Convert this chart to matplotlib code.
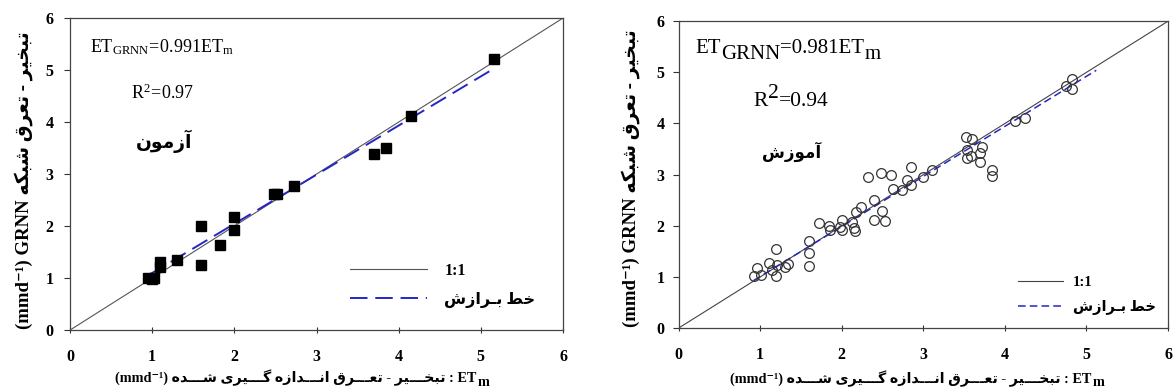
import matplotlib
matplotlib.use("Agg")
import matplotlib.pyplot as plt

# ---------------- data ----------------
test_x = [0.95, 1.0, 1.02, 1.1, 1.1, 1.3, 1.59, 1.59, 1.82, 1.99, 1.99, 2.48, 2.52, 2.73, 3.70, 3.84, 4.15, 5.16]
test_y = [1.0, 0.98, 1.0, 1.3, 1.22, 1.35, 2.0, 1.25, 1.64, 2.17, 1.93, 2.61, 2.62, 2.77, 3.38, 3.50, 4.11, 5.21]

train_x = [0.92, 0.96, 1.01, 1.11, 1.14, 1.19, 1.19, 1.21, 1.31, 1.34, 1.60, 1.60, 1.60,
           1.72, 1.84, 1.85, 1.98, 2.00, 2.00, 2.13, 2.15, 2.16, 2.18, 2.23, 2.32, 2.39,
           2.40, 2.48, 2.49, 2.53, 2.60, 2.63, 2.74, 2.80, 2.85, 2.85, 3.00, 3.11, 3.52,
           3.54, 3.54, 3.60, 3.58, 3.70, 3.70, 3.72, 3.84, 3.84, 4.12, 4.25, 4.75, 4.82, 4.82]
train_y = [1.01, 1.17, 1.04, 1.27, 1.14, 1.54, 1.02, 1.24, 1.20, 1.25, 1.71, 1.46, 1.22,
           2.05, 2.00, 1.91, 1.97, 2.11, 1.92, 2.08, 1.96, 1.89, 2.26, 2.37, 2.95, 2.11,
           2.50, 3.04, 2.28, 2.09, 2.99, 2.71, 2.70, 2.89, 2.80, 3.14, 2.95, 3.10, 3.73,
           3.49, 3.32, 3.69, 3.36, 3.43, 3.25, 3.54, 3.09, 2.97, 4.05, 4.10, 4.73, 4.86, 4.68]

test_fit_x = [0.96, 5.15]
test_fit_y = [1.06, 5.02]
train_fit_x = [0.92, 5.12]
train_fit_y = [0.93, 5.04]

ticks = [0, 1, 2, 3, 4, 5, 6]
one_to_one = [0, 6]

train_eq = ("ET", "GRNN", "=0.981ET", "m")
train_r2 = ("R", "2", "=0.94")

test_name = "آزمون"
train_name = "آموزش"
fit_name = "خط بـرازش"
ylabel_fa = "تبخیر - تعرق شبکه"
xlabel_fa = "تبخـــیر - تعـــرق انـــدازه گـــیری شـــده"

# ---------------- Persian shaping (presentation forms, visual order) ----------------
FORMS = {
    'ا': (0xFE8D, 0xFE8E, None, None),
    'آ': (0xFE81, 0xFE82, None, None),
    'ب': (0xFE8F, 0xFE90, 0xFE91, 0xFE92),
    'ت': (0xFE95, 0xFE96, 0xFE97, 0xFE98),
    'خ': (0xFEA5, 0xFEA6, 0xFEA7, 0xFEA8),
    'د': (0xFEA9, 0xFEAA, None, None),
    'ر': (0xFEAD, 0xFEAE, None, None),
    'ز': (0xFEAF, 0xFEB0, None, None),
    'ش': (0xFEB5, 0xFEB6, 0xFEB7, 0xFEB8),
    'ط': (0xFEC1, 0xFEC2, 0xFEC3, 0xFEC4),
    'ع': (0xFEC9, 0xFECA, 0xFECB, 0xFECC),
    'ق': (0xFED5, 0xFED6, 0xFED7, 0xFED8),
    'م': (0xFEE1, 0xFEE2, 0xFEE3, 0xFEE4),
    'ن': (0xFEE5, 0xFEE6, 0xFEE7, 0xFEE8),
    'ه': (0xFEE9, 0xFEEA, 0xFEEB, 0xFEEC),
    'و': (0xFEED, 0xFEEE, None, None),
    'ک': (0xFB8E, 0xFB8F, 0xFB90, 0xFB91),
    'گ': (0xFB92, 0xFB93, 0xFB94, 0xFB95),
    'ی': (0xFBFC, 0xFBFD, 0xFBFE, 0xFBFF),
    'ـ': (0x0640, 0x0640, 0x0640, 0x0640),
}


def shape(text):
    def fwd(c):
        return c in FORMS and FORMS[c][2] is not None
    out = []
    for i, c in enumerate(text):
        if c not in FORMS:
            out.append(c)
            continue
        prev = text[i - 1] if i > 0 else ''
        nxt = text[i + 1] if i + 1 < len(text) else ''
        jp = fwd(prev)
        jn = fwd(c) and nxt in FORMS
        iso, fin, ini, med = FORMS[c]
        g = med if (jp and jn) else fin if jp else ini if jn else iso
        out.append(chr(g))
    return ''.join(reversed(out))


# ---------------- style ----------------
plt.rcParams['font.family'] = ['Liberation Serif', 'DejaVu Sans']
plt.rcParams['mathtext.fontset'] = 'custom'
plt.rcParams['mathtext.rm'] = 'Liberation Serif'
plt.rcParams['mathtext.bf'] = 'Liberation Serif:bold'
FAM = ['Liberation Serif', 'DejaVu Sans']
BLUE = '#2626c8'

fig = plt.figure(figsize=(11.73, 3.92), dpi=100)
ax1 = fig.add_axes([0.0597, 0.158, 0.4203, 0.796])
ax2 = fig.add_axes([0.5785, 0.163, 0.4173, 0.783])


def chain(ax, x, y, pieces):
    """pieces: list of (text, size, yshift_points)"""
    t0 = ax.text(x, y, pieces[0][0], fontsize=pieces[0][1], family=FAM,
                 ha='left', va='baseline', transform=ax.transData)
    prev = t0
    base = 0
    for s, size, dy in pieces[1:]:
        prev = ax.annotate(s, xy=(1, 0), xycoords=prev, xytext=(0, dy - base),
                           textcoords='offset points', fontsize=size, family=FAM,
                           ha='left', va='bottom')
        base = dy
    return t0


def style_axes(ax, ypad, xlab_pos, ylab_pos):
    ax.set_xlim(0, 6)
    ax.set_ylim(0, 6)
    ax.set_xticks(ticks)
    ax.set_yticks(ticks)
    ax.set_xticklabels([str(t) for t in ticks], fontweight='bold', fontsize=11.5)
    ax.set_yticklabels([str(t) for t in ticks], fontweight='bold', fontsize=11.5)
    ax.tick_params(axis='x', direction='inout', length=5, width=0.8, pad=11, color='#333333')
    ax.tick_params(axis='y', direction='out', length=4, width=0.8, pad=ypad, color='#333333')
    for sp in ax.spines.values():
        sp.set_color('#444444')
        sp.set_linewidth(0.9)
    ax.set_ylabel('(mmd⁻¹) GRNN ' + shape(ylabel_fa), fontweight='bold', fontsize=13.5,
                  family=FAM)
    ax.yaxis.set_label_coords(*ylab_pos)
    xl = ax.set_xlabel('(mmd⁻¹) ' + shape(xlabel_fa) + ' : ET', fontweight='bold', fontsize=10.3,
                       family=FAM)
    ax.xaxis.set_label_coords(*xlab_pos)
    ax.annotate('m', xy=(1, 0.5), xycoords=xl, xytext=(0.5, -3), textcoords='offset points',
                fontweight='bold', fontsize=10.3, family=FAM, ha='left', va='center')


# ---------------- left: test ----------------
ax1.plot(one_to_one, one_to_one, color='#555555', lw=0.8, label='1:1')
ax1.plot(test_fit_x, test_fit_y, color=BLUE, lw=1.4, dashes=(9, 4), label=shape(fit_name))
ax1.plot(test_x, test_y, 's', color='black', ms=6.5, zorder=3)
style_axes(ax1, 8, (0.458, -0.128), (-0.075, 0.48))
ax1.text(0.24, 5.35, r'$\mathrm{ET_{GRNN}\!=\!0.991ET_m}$', fontsize=13)
ax1.text(0.74, 4.45, r'$\mathrm{R^2\!=\!0.97}$', fontsize=13)
ax1.text(1.14, 3.5, shape(test_name), fontsize=13.5, fontweight='bold', family=FAM, ha='center')
ax1.legend(frameon=False, loc='upper left', bbox_to_anchor=(0.555, 0.236), borderaxespad=0,
           prop={'family': FAM, 'weight': 'bold', 'size': 11.5},
           handlelength=4.8, handletextpad=1.1, labelspacing=0.8)

# ---------------- right: training ----------------
ax2.plot(one_to_one, one_to_one, color='#444444', lw=0.8, label='1:1')
ax2.plot(train_fit_x, train_fit_y, color=BLUE, lw=1.1, dashes=(5, 2.7), label=shape(fit_name))
ax2.plot(train_x, train_y, 'o', mfc='none', mec='#333333', mew=0.9, ms=7, zorder=3)
style_axes(ax2, 6, (0.475, -0.137), (-0.078, 0.49))
chain(ax2, 0.21, 5.37, [(train_eq[0], 15, 0), (train_eq[1], 15, -4),
                        (train_eq[2], 15, 0), (train_eq[3], 15, -4)])
chain(ax2, 0.92, 4.34, [(train_r2[0], 15.5, 0), (train_r2[1], 15.5, 6), (train_r2[2], 15.5, 0)])
ax2.text(1.39, 3.33, shape(train_name), fontsize=12, fontweight='bold', family=FAM, ha='center')
ax2.legend(frameon=False, loc='upper left', bbox_to_anchor=(0.681, 0.19), borderaxespad=0,
           prop={'family': FAM, 'weight': 'bold', 'size': 10.5},
           handlelength=3.1, handletextpad=0.7, labelspacing=0.75)

fig.savefig('out.png', dpi=100)
